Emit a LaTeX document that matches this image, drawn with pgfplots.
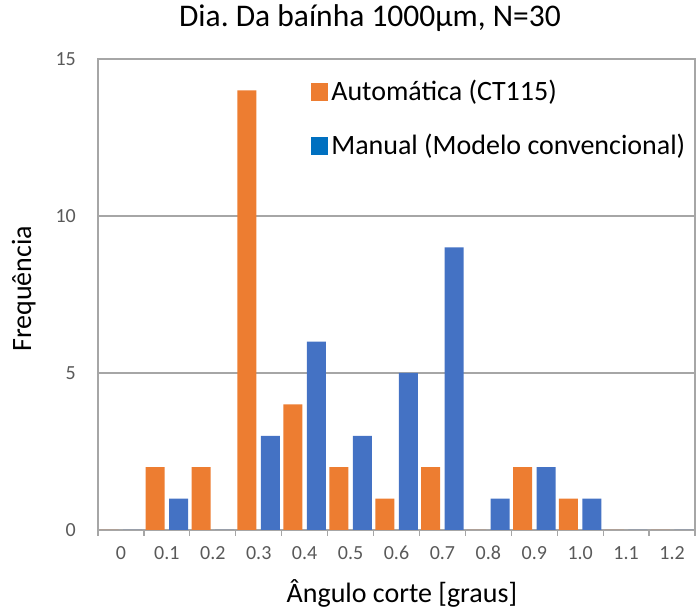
\documentclass[border=0pt]{standalone}
\usepackage{fontspec}
\setmainfont{Carlito}
\usepackage{pgfplots}
\pgfplotsset{compat=1.18}
\frenchspacing

\definecolor{laranja}{HTML}{ED7D31}
\definecolor{azul}{HTML}{4472C4}
\definecolor{azullegenda}{HTML}{0070C0}
\definecolor{linha}{HTML}{A6A6A6}
\definecolor{rotulo}{HTML}{595959}

\begin{document}
\begin{tikzpicture}
\useasboundingbox (0,0) rectangle (699pt,612pt);
\begin{axis}[
    at={(98pt,82pt)}, anchor=south west,
    scale only axis,
    width=597pt, height=471pt,
    ybar=4.5pt, bar width=19pt,
    xmin=-0.5, xmax=12.5,
    ymin=0, ymax=15,
    xtick={0,...,12},
    xticklabels={0,0.1,0.2,0.3,0.4,0.5,0.6,0.7,0.8,0.9,1.0,1.1,1.2},
    minor xtick={-0.5,0.5,...,12.5},
    ytick={0,5,10,15},
    major tick length=0pt,
    minor tick length=6pt,
    tick align=outside,
    xtick pos=bottom, ytick pos=left,
    axis line style={draw=linha, line width=1.3pt},
    every tick/.style={draw=linha, line width=1.3pt},
    minor tick style={draw=linha, line width=1.3pt},
    ymajorgrids, grid style={draw=linha, line width=1.3pt},
    /pgf/number format/assume math mode=true,
    ticklabel style={font=\fontsize{20}{22}\selectfont, text=rotulo},
    xticklabel style={anchor=base, inner sep=0pt, yshift=-30pt},
    yticklabel style={anchor=east, inner sep=0pt, xshift=-22pt},
    title={Dia. Da baínha 1000μm, N=30},
    title style={at={(0.4556,1.0573)}, anchor=base, font=\fontsize{31.5}{37}\selectfont},
    xlabel={Ângulo corte [graus]},
    xlabel style={at={(0.509,-0.1529)}, anchor=base, font=\fontsize{28}{33}\selectfont},
    ylabel={Frequência},
    ylabel style={at={(-0.1122,0.512)}, anchor=base, font=\fontsize{28}{33}\selectfont},
    legend style={at={(0.357,0.955)}, anchor=north west, draw=none, fill=none,
        inner sep=0pt, row sep=32pt, column sep=3pt,
        font=\fontsize{28}{33}\selectfont,
        nodes={inner sep=0pt, anchor=base west}},
    legend cell align=left,
]
\addplot[fill=laranja, draw=none,
    legend image code/.code={\fill[laranja] (0pt,0pt) rectangle (17pt,18pt);}]
    coordinates {
    (0,0) (1,2) (2,2) (3,14) (4,4) (5,2) (6,1) (7,2) (8,0) (9,2) (10,1) (11,0) (12,0)
};
\addlegendentry{Automática (CT115)}
\addplot[fill=azul, draw=none,
    legend image code/.code={\fill[azullegenda] (0pt,0pt) rectangle (17pt,18pt);}]
    coordinates {
    (0,0) (1,1) (2,0) (3,3) (4,6) (5,3) (6,5) (7,9) (8,1) (9,2) (10,1) (11,0) (12,0)
};
\addlegendentry{Manual (Modelo convencional)}
\end{axis}
\end{tikzpicture}
\end{document}
